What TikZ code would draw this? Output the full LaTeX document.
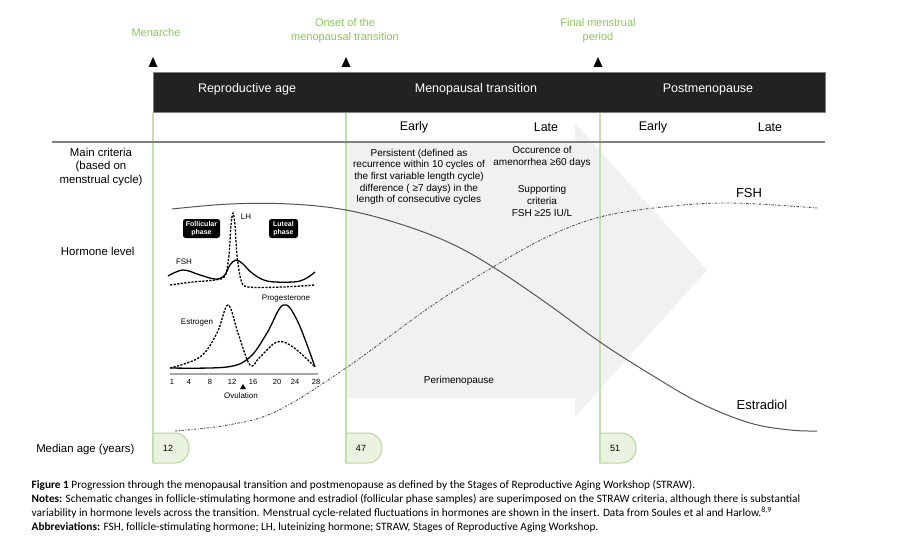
\documentclass[tikz,border=0pt]{standalone}
\usepackage{fontspec}
\setmainfont{Liberation Sans}
\newfontfamily\capfont{Carlito}
\usetikzlibrary{positioning}
\definecolor{milestone}{RGB}{140,198,90}
\definecolor{stageline}{RGB}{196,224,172}
\definecolor{agefill}{RGB}{234,242,224}
\definecolor{ageedge}{RGB}{180,215,150}
\definecolor{barfill}{RGB}{34,34,34}
\definecolor{arrowfill}{RGB}{241,241,241}
\definecolor{curvegray}{RGB}{85,85,85}

\begin{document}
\begin{tikzpicture}[x=1pt,y=-1pt,
  mile/.style={text=milestone,font=\fontsize{11}{14}\selectfont,align=center},
  stagename/.style={text=white,font=\fontsize{12.5}{14}\selectfont},
  substage/.style={font=\fontsize{12.5}{14}\selectfont},
  rowname/.style={font=\fontsize{11.4}{13.6}\selectfont,align=center},
  crit/.style={font=\fontsize{10}{11.6}\selectfont,align=center},
  curvelbl/.style={font=\fontsize{13}{15}\selectfont},
  agebox/.style={fill=agefill,draw=ageedge,line width=1pt},
  agenum/.style={font=\fontsize{9}{10}\selectfont},
  cyc/.style={line width=1.3pt},
  cycdash/.style={line width=1.3pt,dash pattern=on 2.2pt off 1.4pt},
  insertlbl/.style={font=\fontsize{8}{9}\selectfont},
  daylbl/.style={font=\fontsize{7.5}{8}\selectfont},
  phasebox/.style={fill=black,text=white,rounded corners=2.5pt,inner sep=1pt,
    font=\bfseries\fontsize{7}{8}\selectfont,align=center,minimum height=19pt},
  capline/.style={anchor=west,inner sep=0pt,font=\capfont\fontsize{11.3}{12}\selectfont}]

\useasboundingbox[fill=white] (0,0) rectangle (900,559);

\fill[arrowfill] (346,143) -- (575,143) -- (575,123) -- (707,270) -- (575,417) -- (575,398) -- (346,398) -- cycle;

\filldraw[fill=barfill,draw=gray,line width=1pt] (153,73) rectangle (825,113);
\foreach \x in {153,346,600}
\draw[stageline,line width=1.3pt] (\x,113) -- (\x,463);
\draw[gray,line width=1.2pt] (52,142) -- (825,142);
\foreach \x in {153,346,598}
\fill (\x,57) -- ++(4.5,10) -- ++(-9,0) -- cycle;

\node[mile] (menarche) at (156,33) {Menarche};
\node[mile] (onset) at (345,31) {Onset of the\\menopausal transition};
\node[mile] (fmp) at (598,31) {Final menstrual\\period};

\node[stagename] (repro) at (247,89) {Reproductive age};
\node[stagename] (transition) at (476,89) {Menopausal transition};
\node[stagename] (postmeno) at (708,89) {Postmenopause};

\node[substage] (early1) at (414,127) {Early};
\node[substage] (late1) at (546,127) {Late};
\node[substage] (early2) at (653,127) {Early};
\node[substage] (late2) at (770,127) {Late};

\node[rowname] (criteria) at (101,167) {Main criteria\\(based on\\menstrual cycle)};
\node[rowname,anchor=east] (hormone) at (138,251) {Hormone level};
\node[rowname,anchor=east] (medianage) at (138,450) {Median age (years)};

\node[crit] (earlycrit) at (419,177) {Persistent (defined as\\recurrence within 10 cycles of\\the first variable length cycle)\\difference ( ≥7 days) in the\\length of consecutive cycles};
\node[crit] (latecrit) at (542,157) {Occurence of\\amenorrhea ≥60 days};
\node[crit] (support) at (542,201) {Supporting\\criteria\\FSH ≥25 IU/L};
\node[crit] (perimeno) at (459,381) {Perimenopause};

\draw[curvegray,line width=1pt] plot[smooth,tension=0.6] coordinates {(172,209) (230,204) (290,204) (346,210) (400,224) (450,243) (493,267) (545,302) (600,342) (650,374) (700,403) (750,423) (790,430) (817,431)};
\draw[curvegray,line width=0.9pt,dash pattern=on 2.5pt off 1.5pt on 0.8pt off 1.5pt] plot[smooth,tension=0.6] coordinates {(175,431) (228,425) (277,411) (346,368) (430,307) (493,267) (547,237) (600,217) (663,207) (730,203) (817,208)};
\node[curvelbl] (fshlbl) at (749,193) {FSH};
\node[curvelbl] (e2lbl) at (762,405) {Estradiol};

\node[phasebox,minimum width=37pt] (follicular) at (201.5,228.5) {Follicular\\phase};
\node[phasebox,minimum width=29pt] (luteal) at (283.5,228.5) {Luteal\\phase};
\draw[cycdash] plot[smooth,tension=0.5] coordinates {(170,285) (193,282) (215,280) (225,276) (229,255) (231,225) (233,213) (235,225) (237,255) (241,280) (248,287) (283,287) (315,285)};
\draw[cyc] plot[smooth,tension=0.6] coordinates {(168,276) (183,270) (200,275) (215,279) (224,276) (230,265) (236,260) (243,264) (252,273) (267,281) (293,282) (305,279) (315,272)};
\draw[cycdash] plot[smooth,tension=0.6] coordinates {(170,368) (200,357) (217,333) (228,305) (238,333) (250,365) (260,357) (277,342) (293,347) (315,367)};
\draw[cyc] plot[smooth,tension=0.6] coordinates {(170,368) (227,367) (250,357) (267,333) (283,305) (297,320) (315,367)};
\node[insertlbl] (lhlbl) at (246,217) {LH};
\node[insertlbl] (fshins) at (184,262) {FSH};
\node[insertlbl] (estrogen) at (197,323) {Estrogen};
\node[insertlbl] (progest) at (286,299) {Progesterone};

\draw[gray!70,line width=1.5pt] (170,374) -- (318,374);
\foreach \d/\x in {1/172,4/189,8/210,12/232,16/253,20/277,24/295,28/316}
\node[daylbl] (day\d) at (\x,382) {\d};
\fill (243,384) -- ++(3,5) -- ++(-6,0) -- cycle;
\node[insertlbl] (ovulation) at (241,396) {Ovulation};

\foreach \x/\a in {153/12,346/47,600/51}{
\filldraw[agebox] (\x,433) -- ++(21,0) .. controls ++(9,0) and ++(0,-8) .. ++(15,15) .. controls ++(0,8) and ++(9,0) .. ++(-15,15) -- ++(-21,0) -- cycle;
\node[agenum] (age\a) at (\x+15,448) {\a};
}

\node[capline] (cap1) at (31.5,485) {\textbf{Figure 1} Progression through the menopausal transition and postmenopause as defined by the Stages of Reproductive Aging Workshop (STRAW).};
\node[capline] (cap2) at (31.5,499) {\textbf{Notes:} Schematic changes in follicle-stimulating hormone and estradiol (follicular phase samples) are superimposed on the STRAW criteria, although there is substantial};
\node[capline] (cap3) at (31.5,513) {variability in hormone levels across the transition. Menstrual cycle-related fluctuations in hormones are shown in the insert. Data from Soules et al and Harlow.\textsuperscript{8,9}};
\node[capline] (cap4) at (31.5,527) {\textbf{Abbreviations:} FSH, follicle-stimulating hormone; LH, luteinizing hormone; STRAW, Stages of Reproductive Aging Workshop.};
\end{tikzpicture}
\end{document}
